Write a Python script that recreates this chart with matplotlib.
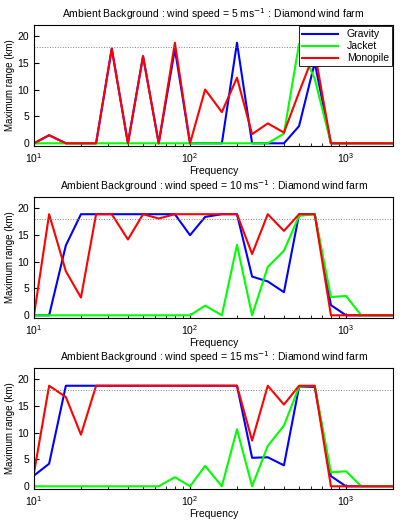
import matplotlib.pyplot as plt
import numpy as np

freq = [10, 12.5, 16, 20, 25, 31.5, 40, 50, 63, 80, 100, 125, 160, 200,
        250, 315, 400, 500, 630, 800, 1000, 1250, 1600, 2000]

# wind speed 5 m/s
grav_5 = [0, 1.5, 0, 0, 0, 17.6, 0, 16.2, 0, 17.5, 0, 0, 0, 18.7,
          0, 0, 0, 3.2, 15, 0, 0, 0, 0, 0]
jack_5 = [0, 0, 0, 0, 0, 0, 0, 0, 0, 0, 0, 0, 0, 0,
          0, 0, 1.8, 18.5, 12, 0, 0, 0, 0, 0]
mono_5 = [0, 1.5, 0, 0, 0, 17.6, 0, 16.2, 0, 18.7, 0, 10, 5.8, 12.2,
          1.7, 3.7, 2, 9.5, 17, 0, 0, 0, 0, 0]

# wind speed 10 m/s
grav_10 = [0, 0, 13, 18.8, 18.8, 18.8, 18.8, 18.8, 18.8, 18.8, 14.9, 18.3, 18.8, 18.8,
           7.2, 6.3, 4.3, 18.8, 18.8, 1.9, 0, 0, 0, 0]
jack_10 = [0, 0, 0, 0, 0, 0, 0, 0, 0, 0, 0, 1.8, 0, 13.1,
           0, 9, 12, 18.5, 18.8, 3.4, 3.6, 0, 0, 0]
mono_10 = [0, 18.8, 8.2, 3.3, 18.8, 18.8, 14.1, 18.8, 18, 18.8, 18.8, 18.8, 18.8, 18.8,
           11.4, 18.8, 15.7, 18.8, 18.8, 0, 0, 0, 0, 0]

# wind speed 15 m/s
grav_15 = [2, 4.2, 18.7, 18.7, 18.7, 18.7, 18.7, 18.7, 18.7, 18.7, 18.7, 18.7, 18.7, 18.7,
           5.3, 5.4, 3.9, 18.5, 18.5, 1.9, 0, 0, 0, 0]
jack_15 = [0, 0, 0, 0, 0, 0, 0, 0, 0, 1.7, 0, 3.8, 0, 10.6,
           0, 7.5, 11.3, 18.5, 18.7, 2.6, 2.8, 0, 0, 0]
mono_15 = [2.5, 18.7, 16.6, 9.6, 18.7, 18.7, 18.7, 18.7, 18.7, 18.7, 18.7, 18.7, 18.7, 18.7,
           8.5, 18.7, 15.2, 18.7, 18.7, 0, 0, 0, 0, 0]

speeds = [5, 10, 15]
series = [(grav_5, jack_5, mono_5), (grav_10, jack_10, mono_10), (grav_15, jack_15, mono_15)]
threshold = 18

plt.rcParams['font.family'] = 'Liberation Sans'
fig = plt.figure(figsize=(4.04, 5.23), dpi=100)
tops = [25, 197, 368]
for k, (speed, (g, j, m)) in enumerate(zip(speeds, series)):
    ax = fig.add_axes([34 / 404, 1 - (tops[k] + 121) / 523, 359 / 404, 121 / 523])
    ax.plot(freq, g, color='#0000ff', lw=1.5, label='Gravity')
    ax.plot(freq, j, color='#00ff00', lw=1.5, label='Jacket')
    ax.plot(freq, m, color='#ff0000', lw=1.5, label='Monopile')
    ax.axhline(threshold, color='gray', ls=':', lw=0.7)
    ax.set_xscale('log')
    ax.set_xlim(10, 2000)
    ax.set_ylim(-0.5, 22)
    ax.set_yticks([0, 5, 10, 15, 20])
    ax.tick_params(labelsize=7.5, direction='in', which='both')
    ax.tick_params(which='minor', length=2)
    ax.set_xlabel('Frequency', fontsize=7.5, labelpad=1)
    ax.set_ylabel('Maximum range (km)', fontsize=7, labelpad=2)
    ax.set_title(f'Ambient Background : wind speed = {speed} ms$^{{-1}}$ : Diamond wind farm',
                 fontsize=7.5, pad=5)
    if k == 0:
        leg = ax.legend(loc='upper right', fontsize=7.5, fancybox=False, framealpha=1,
                        edgecolor='black', borderaxespad=0.1, handlelength=3.5, borderpad=0.3,
                        labelspacing=0.2)
        leg.get_frame().set_linewidth(0.6)

fig.savefig('out.png', dpi=100)
